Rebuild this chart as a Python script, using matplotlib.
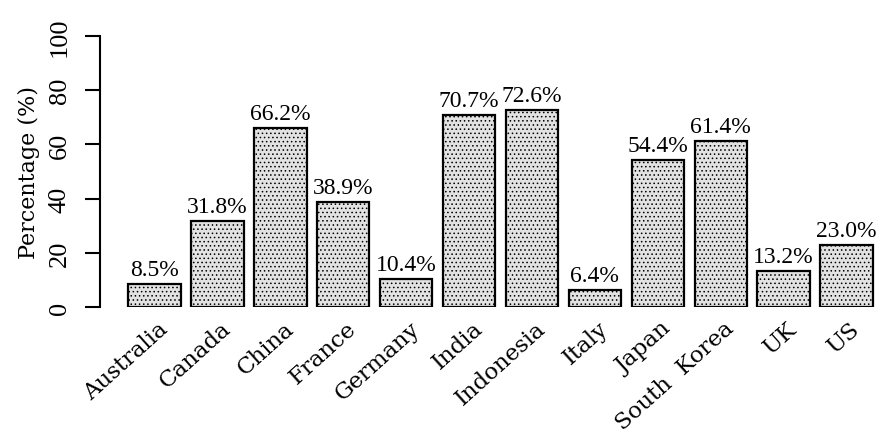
import matplotlib
matplotlib.use("Agg")
import matplotlib.pyplot as plt
from matplotlib.transforms import offset_copy

# data
countries = ["Australia", "Canada", "China", "France", "Germany", "India",
             "Indonesia", "Italy", "Japan", "South  Korea", "UK", "US"]
percent = [8.5, 31.8, 66.2, 38.9, 10.4, 70.7, 72.6, 6.4, 54.4, 61.4, 13.2, 23.0]
yticks = [0, 20, 40, 60, 80, 100]

plt.rcParams["font.family"] = "DejaVu Serif"
plt.rcParams["hatch.color"] = "#4a4a4a"
plt.rcParams["hatch.linewidth"] = 0.6

fig = plt.figure(figsize=(8.78, 4.39), dpi=100)
ax = fig.add_axes([100 / 878, (439 - 308) / 439, 778 / 878, 271 / 439])

x = list(range(len(countries)))
ax.bar(x, percent, width=0.833, color="#e2e2e2", edgecolor="black",
       linewidth=1.6, hatch="....")

# value labels above the bars
for xi, v in zip(x, percent):
    ax.text(xi, v, f"{v:.1f}%", ha="center", va="bottom", fontsize=17,
            family="Liberation Serif",
            transform=offset_copy(ax.transData, fig, x=0, y=4, units="dots"))

# rotated country names
lab_tr = offset_copy(ax.transData, fig, x=3, y=-10, units="dots")
for xi, name in zip(x, countries):
    ax.text(xi, 0, name, rotation=42, ha="right", va="top",
            rotation_mode="anchor", fontsize=16.5, transform=lab_tr)

ax.set_xlim(-0.866, 11.5)
ax.set_ylim(0, 100)
ax.set_xticks([])
ax.set_yticks(yticks)
ax.set_yticklabels([str(t) for t in yticks], rotation=90, va="center",
                   fontsize=19, family="Liberation Serif")
ax.tick_params(axis="y", length=11, width=1.5, pad=10)
ax.set_ylabel("Percentage (%)", fontsize=16, labelpad=6)

for s in ["top", "right", "bottom"]:
    ax.spines[s].set_visible(False)
ax.spines["left"].set_linewidth(1.5)
ax.patch.set_visible(False)

fig.savefig("out.png", dpi=100)
